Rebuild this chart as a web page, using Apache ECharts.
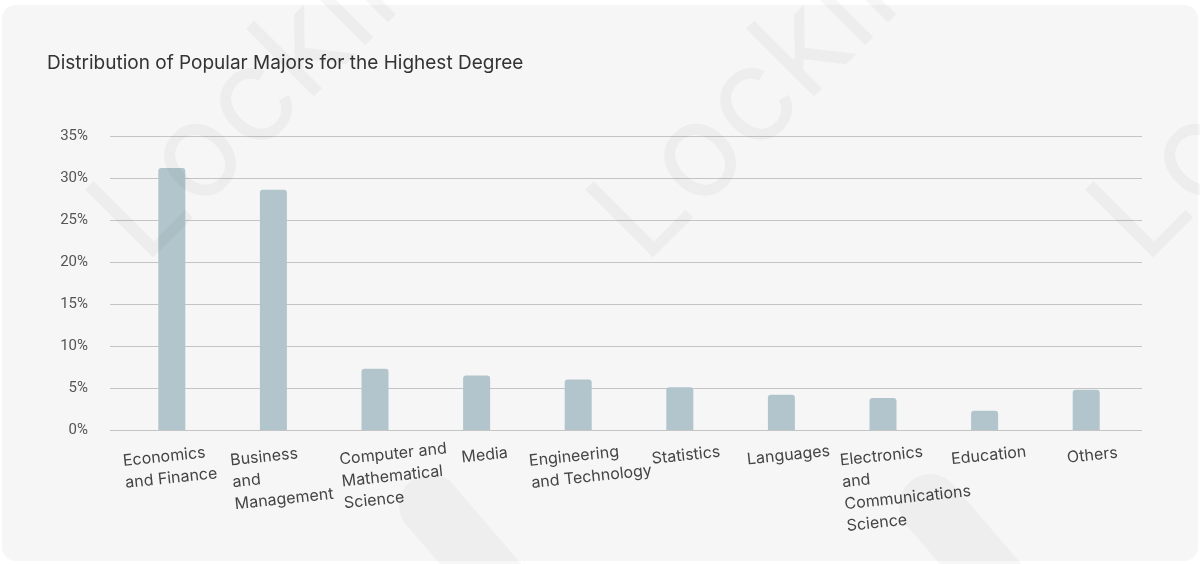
<!DOCTYPE html>
<html>
<head>
<meta charset="utf-8">
<title>Distribution of Popular Majors for the Highest Degree</title>
<script src="https://cdn.jsdelivr.net/npm/echarts@6/dist/echarts.min.js"></script>
<style>
  html, body { margin: 0; padding: 0; background: #ffffff; }
  #chart { width: 1200px; height: 564px; }
</style>
</head>
<body>
<div id="chart"></div>
<script>
// Majors (line breaks are where the axis labels wrap)
const majors = [
  'Economics\nand Finance',
  'Business\nand\nManagement',
  'Computer and\nMathematical\nScience',
  'Media',
  'Engineering\nand Technology',
  'Statistics',
  'Languages',
  'Electronics\nand\nCommunications\nScience',
  'Education',
  'Others'
];

// Share of respondents per major, in percent
const shares = [31.2, 28.6, 7.3, 6.5, 6.0, 5.1, 4.2, 3.8, 2.3, 4.8];

// Value axis range and step (percent)
const axisMin = 0;
const axisMax = 35;
const axisStep = 5;

const titleText = 'Distribution of Popular Majors for the Highest Degree';
const watermarkText = 'Lockin';

// Horizontal nudge (px) of each category label block
const labelNudge = [-4, 5, 17, 7, 10, 5, 6, 19, 3, 5];

const LABEL_FONT = 'Inter, "DejaVu Sans", sans-serif';

const chart = echarts.init(document.getElementById('chart'), null, { renderer: 'canvas' });

// One rich style per category: lines left-aligned inside a centred block,
// the block shifted by its nudge through asymmetric padding
const labelRich = {};
labelNudge.forEach(function (d, i) {
  labelRich['l' + i] = {
    align: 'left',
    fontFamily: LABEL_FONT,
    fontSize: 16,
    lineHeight: 22,
    color: '#444444',
    padding: d >= 0 ? [0, 0, 0, 2 * d] : [0, -2 * d, 0, 0]
  };
});

// Faint brand marks laid over the card
const marks = [];
[70, 570, 1070].forEach(function (x) {
  marks.push({
    type: 'text',
    x: x,
    y: 191,
    rotation: Math.PI / 4,
    z: 100,
    silent: true,
    style: {
      text: watermarkText,
      font: 'normal 132px Inter, sans-serif',
      fill: 'rgba(0,0,0,0.035)'
    }
  });
});
[[430, 505, 520, 610], [930, 505, 1020, 610]].forEach(function (p) {
  marks.push({
    type: 'line',
    z: 100,
    silent: true,
    shape: { x1: p[0], y1: p[1], x2: p[2], y2: p[3] },
    style: { stroke: 'rgba(0,0,0,0.03)', lineWidth: 62, lineCap: 'round' }
  });
});

const option = {
  animation: false,
  backgroundColor: '#ffffff',
  title: {
    text: titleText,
    left: 42,
    top: 49,
    textStyle: {
      fontFamily: LABEL_FONT,
      fontSize: 19,
      fontWeight: 'normal',
      color: '#333333'
    }
  },
  graphic: [
    {
      type: 'rect',
      z: -10,
      silent: true,
      shape: { x: 2, y: 5, width: 1196, height: 556, r: 14 },
      style: { fill: '#f6f6f6' }
    }
  ].concat(marks),
  grid: [
    // grid 0 carries the value gridlines and their labels
    { left: 110, right: 58, top: 136, bottom: 134 },
    // grid 1 carries the bars and the category labels
    { left: 121, right: 63, top: 136, bottom: 134 }
  ],
  xAxis: [
    {
      gridIndex: 0,
      type: 'category',
      data: majors,
      show: false
    },
    {
      gridIndex: 1,
      type: 'category',
      data: majors,
      axisLine: { show: false },
      axisTick: { show: false },
      axisLabel: {
        interval: 0,
        rotate: 6,
        align: 'center',
        verticalAlign: 'top',
        margin: 15,
        formatter: function (v, i) { return '{l' + i + '|' + v + '}'; },
        rich: labelRich
      }
    }
  ],
  yAxis: [
    {
      gridIndex: 0,
      type: 'value',
      min: axisMin,
      max: axisMax,
      interval: axisStep,
      axisLine: { show: false },
      axisTick: { show: false },
      axisLabel: {
        formatter: '{value}%',
        margin: 22,
        fontFamily: 'Roboto, sans-serif',
        fontSize: 15,
        color: '#555555'
      },
      splitLine: { lineStyle: { color: '#c4c4c4', width: 1 } }
    },
    {
      gridIndex: 1,
      type: 'value',
      min: axisMin,
      max: axisMax,
      interval: axisStep,
      show: false,
      splitLine: { show: false }
    }
  ],
  series: [
    {
      type: 'bar',
      xAxisIndex: 1,
      yAxisIndex: 1,
      data: shares,
      barWidth: 27,
      itemStyle: {
        color: '#b2c5cc',
        borderRadius: [3, 3, 0, 0]
      }
    }
  ]
};

chart.setOption(option);
</script>
</body>
</html>
